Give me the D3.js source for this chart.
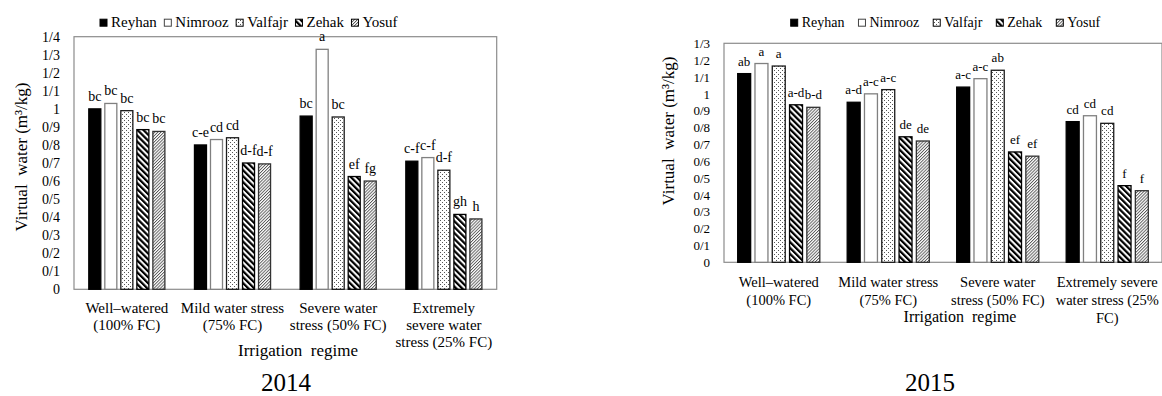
<!DOCTYPE html>
<html><head><meta charset="utf-8">
<script src="https://cdn.jsdelivr.net/npm/d3@7"></script>
<style>
body{margin:0;background:#fff}
svg, svg text{font-family:"Liberation Serif","DejaVu Serif","Times New Roman",serif !important;fill:#000}
</style>
</head><body><script>
// ---------- DATA ----------
const cultivars = ["Reyhan","Nimrooz","Valfajr","Zehak","Yosuf"];

const regimes2014 = [["Well–watered","(100% FC)"],["Mild water stress","(75% FC)"],["Severe water","stress (50% FC)"],["Extremely","severe water","stress (25% FC)"]];
const regimes2015 = [["Well–watered","(100% FC)"],["Mild water stress","(75% FC)"],["Severe water","stress (50% FC)"],["Extremely severe","water stress (25%","FC)"]];

const reyhan2014  = [1.00, 0.80, 0.96, 0.71];
const nimrooz2014 = [1.03, 0.83, 1.33, 0.73];
const valfajr2014 = [0.99, 0.84, 0.955, 0.66];
const zehak2014   = [0.885, 0.70, 0.625, 0.415];
const yosuf2014   = [0.875, 0.695, 0.60, 0.39];

const reyhanLetters2014  = ["bc","c-e","bc","c-f"];
const nimroozLetters2014 = ["bc","cd","a","c-f"];
const valfajrLetters2014 = ["bc","cd","bc","d-f"];
const zehakLetters2014   = ["bc","d-f","ef","gh"];
const yosufLetters2014   = ["bc","d-f","fg","h"];

const reyhan2015  = [1.12, 0.95, 1.04, 0.835];
const nimrooz2015 = [1.18, 1.00, 1.09, 0.87];
const valfajr2015 = [1.165, 1.025, 1.14, 0.825];
const zehak2015   = [0.935, 0.745, 0.655, 0.455];
const yosuf2015   = [0.92, 0.72, 0.63, 0.425];

const reyhanLetters2015  = ["ab","a-d","a-c","cd"];
const nimroozLetters2015 = ["a","a-c","a-c","cd"];
const valfajrLetters2015 = ["a","a-c","ab","cd"];
const zehakLetters2015   = ["a-d","de","ef","f"];
const yosufLetters2015   = ["b-d","de","ef","f"];

const ticks2014 = [0,0.1,0.2,0.3,0.4,0.5,0.6,0.7,0.8,0.9,1,1.1,1.2,1.3,1.4];
const tickLabels2014 = ["0","0/1","0/2","0/3","0/4","0/5","0/6","0/7","0/8","0/9","1","1/1","1/2","1/3","1/4"];
const ticks2015 = [0,0.1,0.2,0.3,0.4,0.5,0.6,0.7,0.8,0.9,1,1.1,1.2,1.3];
const tickLabels2015 = ["0","0/1","0/2","0/3","0/4","0/5","0/6","0/7","0/8","0/9","1","1/1","1/2","1/3"];

const yTitle = "Virtual  water (m³/kg)";
const xTitle = "Irrigation  regime";
const years = ["2014","2015"];

// ---------- DRAWING ----------
const FONT = '"Liberation Serif","DejaVu Serif","Times New Roman",serif';
const W = 1162, H = 396;
const svg = d3.select("body").append("svg").attr("width", W).attr("height", H).attr("font-family", FONT);
const defs = svg.append("defs");

// patterns
const pDots = defs.append("pattern").attr("id","pDots").attr("patternUnits","userSpaceOnUse").attr("width",4).attr("height",4);
pDots.append("rect").attr("width",4).attr("height",4).attr("fill","#fff");
pDots.append("rect").attr("x",0).attr("y",0).attr("width",1).attr("height",1).attr("fill","#555");
pDots.append("rect").attr("x",2).attr("y",2).attr("width",1).attr("height",1).attr("fill","#555");
const pWide = defs.append("pattern").attr("id","pWide").attr("patternUnits","userSpaceOnUse").attr("width",4.2).attr("height",4.2).attr("patternTransform","rotate(-45)");
pWide.append("rect").attr("width",4.2).attr("height",4.2).attr("fill","#fff");
pWide.append("rect").attr("width",2.2).attr("height",4.2).attr("fill","#000");
const pFine = defs.append("pattern").attr("id","pFine").attr("patternUnits","userSpaceOnUse").attr("width",2.2).attr("height",2.2).attr("patternTransform","rotate(45)");
pFine.append("rect").attr("width",2.2).attr("height",2.2).attr("fill","#fff");
pFine.append("rect").attr("width",0.9).attr("height",2.2).attr("fill","#555");

const fills = ["#000","#fff","url(#pDots)","url(#pWide)","url(#pFine)"];
const strokes = ["#000","#808080","#1a1a1a","#000","#333"];

function txt(sel, size) {
  return sel.attr("font-family", FONT).style("font-family", FONT).style("font-size", size + "px").attr("fill", "#000");
}

function drawChart(c) {
  const g = svg.append("g");
  const y = d3.scaleLinear().domain([0, c.yMax]).range([c.bottom, c.top]);
  const x0 = d3.scaleBand().domain(d3.range(c.regimes.length)).range([c.left, c.right]).padding(0);
  const bw = x0.bandwidth();
  const off = bw * (1 - c.clusterFrac) / 2;
  const x1 = d3.scaleBand().domain(d3.range(cultivars.length)).range([off, bw - off]).paddingInner(0.25).paddingOuter(0);

  // frame
  g.append("rect").attr("x", c.left).attr("y", c.top).attr("width", c.right - c.left).attr("height", c.bottom - c.top)
    .attr("fill","none").attr("stroke","#8c8c8c").attr("stroke-width",1.2);

  // y axis
  const ax = g.append("g").attr("transform", `translate(${c.left},0)`)
    .call(d3.axisLeft(y).tickValues(c.ticks).tickFormat((d,i) => c.tickLabels[i]).tickSize(0).tickPadding(14));
  ax.attr("font-family", FONT);
  ax.select(".domain").remove();
  txt(ax.selectAll("text"), c.tickFont);

  // bars
  const rows = [];
  c.series.forEach((s, j) => s.forEach((v, i) => rows.push({i, j, v, l: c.letters[j][i]})));
  g.selectAll("rect.bar").data(rows).join("rect").attr("class","bar")
    .attr("x", d => x0(d.i) + x1(d.j)).attr("y", d => y(d.v))
    .attr("width", x1.bandwidth()).attr("height", d => y(0) - y(d.v))
    .attr("fill", d => fills[d.j]).attr("stroke", d => strokes[d.j]).attr("stroke-width", 1.3);

  txt(g.selectAll("text.lbl").data(rows).join("text").attr("class","lbl")
    .attr("x", d => x0(d.i) + x1(d.j) + x1.bandwidth()/2).attr("y", d => y(d.v) - 8)
    .attr("text-anchor","middle"), c.letterFont).text(d => d.l);

  // category labels
  c.regimes.forEach((lines, i) => {
    const t = txt(g.append("text").attr("text-anchor","middle"), c.catFont);
    lines.forEach((ln, k) => t.append("tspan").attr("x", x0(i) + bw/2).attr("y", c.catY + k * c.catLineH).text(ln));
  });

  // axis titles
  txt(g.append("text").attr("transform", `translate(${c.titleX},${c.titleY}) rotate(-90)`).attr("text-anchor","middle"), c.titleFont)
    .style("white-space","pre").attr("dy","0.35em").text(yTitle);
  txt(g.append("text").attr("x", c.xTitleX).attr("y", c.xTitleY).attr("text-anchor","middle"), c.xTitleFont)
    .style("white-space","pre").text(xTitle);

  // legend
  let lx = c.legendX;
  cultivars.forEach((name, j) => {
    g.append("rect").attr("x", lx).attr("y", c.legendY - 7.5).attr("width", 7).attr("height", 7)
      .attr("fill", fills[j]).attr("stroke", j === 1 ? "#444" : "#000").attr("stroke-width", 1);
    const t = txt(g.append("text").attr("x", lx + 11).attr("y", c.legendY), c.legendFont).text(name);
    lx += 11 + t.node().getComputedTextLength() + c.legendGap;
  });

  // year
  txt(g.append("text").attr("x", c.yearX).attr("y", c.yearY).attr("text-anchor","middle"), 25).text(c.year);
}

drawChart({
  left: 74, right: 496.7, top: 36.7, bottom: 289.3, yMax: 1.4,
  ticks: ticks2014, tickLabels: tickLabels2014, regimes: regimes2014,
  series: [reyhan2014, nimrooz2014, valfajr2014, zehak2014, yosuf2014],
  letters: [reyhanLetters2014, nimroozLetters2014, valfajrLetters2014, zehakLetters2014, yosufLetters2014],
  clusterFrac: 0.72, tickFont: 14, letterFont: 14, catFont: 15, catLineH: 17, catY: 313,
  titleFont: 17, titleX: 21, titleY: 157, xTitleX: 298, xTitleY: 356, xTitleFont: 17,
  legendX: 100, legendY: 26.7, legendFont: 15, legendGap: 7.5,
  yearX: 286, yearY: 391, year: years[0]
});

drawChart({
  left: 724, right: 1162, top: 43.3, bottom: 262.3, yMax: 1.3,
  ticks: ticks2015, tickLabels: tickLabels2015, regimes: regimes2015,
  series: [reyhan2015, nimrooz2015, valfajr2015, zehak2015, yosuf2015],
  letters: [reyhanLetters2015, nimroozLetters2015, valfajrLetters2015, zehakLetters2015, yosufLetters2015],
  clusterFrac: 0.75, tickFont: 13, letterFont: 13, catFont: 14.5, catLineH: 18, catY: 287,
  titleFont: 17, titleX: 668, titleY: 131, xTitleX: 960, xTitleY: 322, xTitleFont: 16,
  legendX: 790.7, legendY: 26.7, legendFont: 14, legendGap: 14,
  yearX: 930, yearY: 391, year: years[1]
});
</script></body></html>
